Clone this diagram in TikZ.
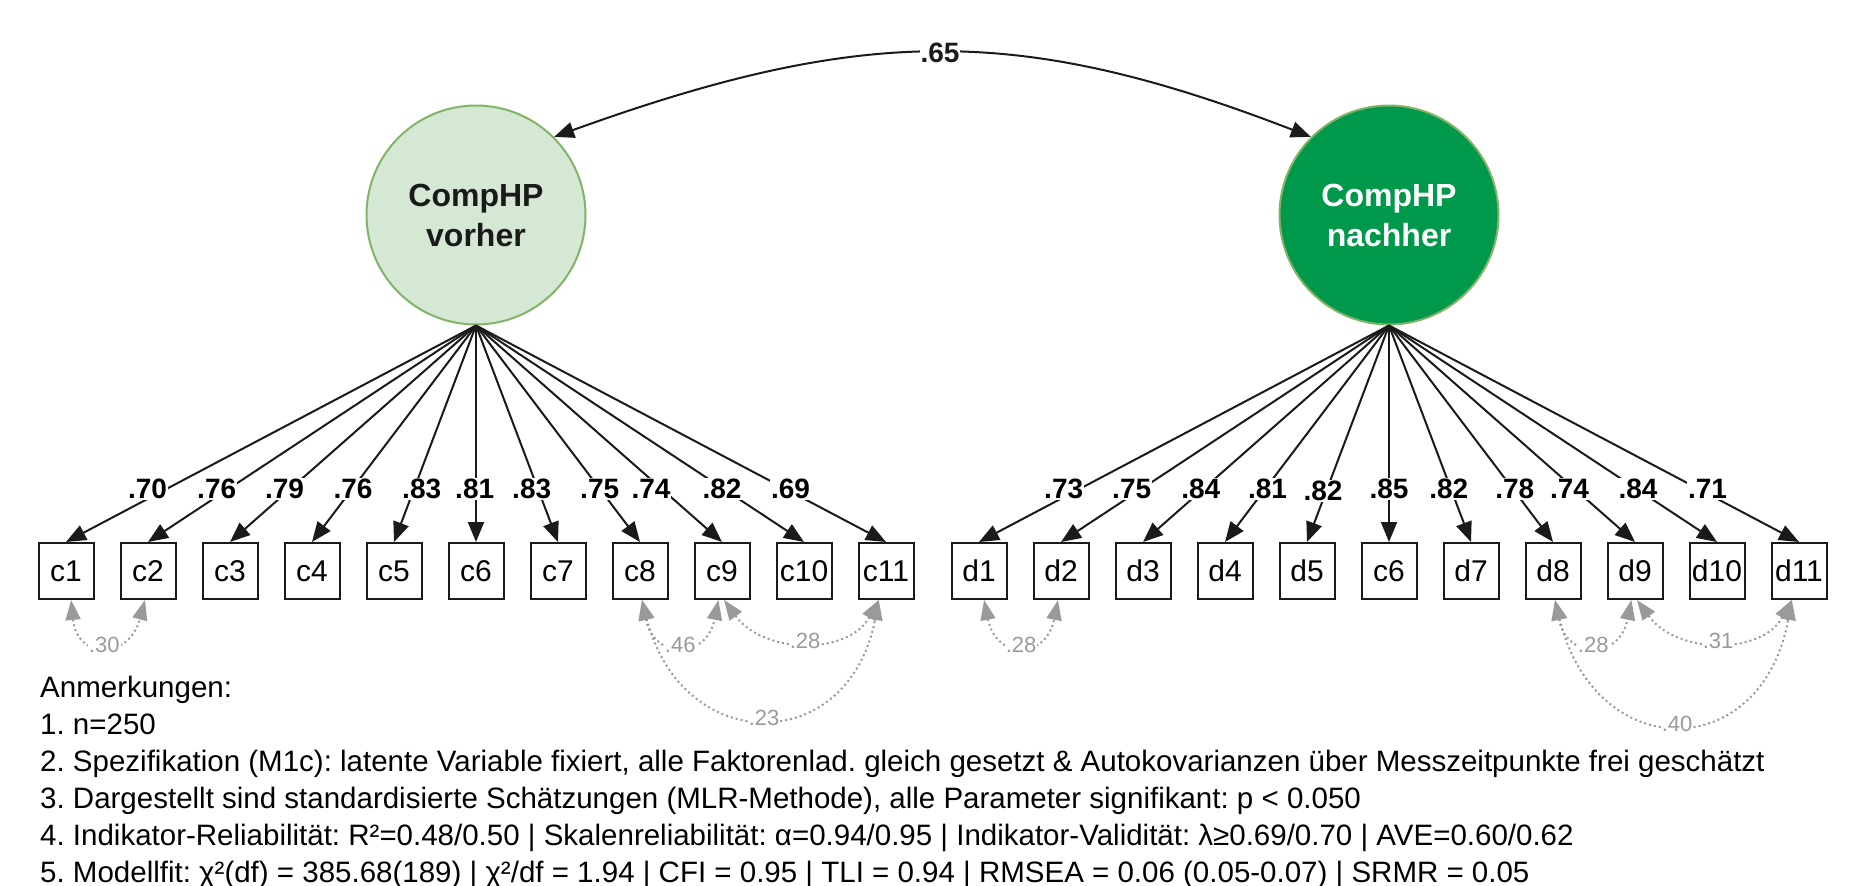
\documentclass[tikz,border=0pt]{standalone}
\usepackage{fontspec}
\setmainfont{Liberation Sans}
\usetikzlibrary{arrows.meta}
\definecolor{lgreen}{HTML}{D5E8D4}
\definecolor{gstroke}{HTML}{82B366}
\definecolor{dgreen}{HTML}{00994C}
\definecolor{covgray}{HTML}{9A9A9A}
\definecolor{ink}{HTML}{1A1A1A}
\frenchspacing
\begin{document}
\begin{tikzpicture}[x=1pt,y=-1pt,
  latent/.style={circle, minimum size=219pt, inner sep=0pt, line width=2pt, draw=gstroke, align=center, font=\fontsize{32}{40}\selectfont\bfseries},
  ind/.style={draw=ink, line width=2pt, minimum width=55pt, minimum height=56pt, inner sep=0pt, font=\fontsize{30}{36}\selectfont},
  load/.style={ink, line width=2pt, -{Triangle[length=20pt,width=16pt]}},
  bicov/.style={ink, line width=2pt, {Triangle[length=20pt,width=16pt]}-{Triangle[length=20pt,width=16pt]}},
  llab/.style={font=\fontsize{28}{34}\selectfont\bfseries, fill=white, inner sep=1pt},
  cov/.style={covgray, line width=2pt, dash pattern=on 2pt off 3pt, {Triangle[length=20pt,width=15pt]}-{Triangle[length=20pt,width=15pt]}},
  clab/.style={font=\fontsize{22}{26}\selectfont, text=covgray, fill=white, inner sep=1pt},
  note/.style={anchor=base west, font=\fontsize{29.5}{36}\selectfont, inner sep=0pt}
]
\useasboundingbox (0,0) rectangle (1856,886);

% latent variables
\node[latent, fill=lgreen, text=ink] (lv) at (476,215) {CompHP\\vorher};
\node[latent, fill=dgreen, text=white] (rv) at (1389,215) {CompHP\\nachher};

% indicators
\foreach \t [count=\i] in {c1,c2,c3,c4,c5,c6,c7,c8,c9,c10,c11}
  \node[ind] (c\i) at ({66+82*(\i-1)},571) {\t};
\foreach \t [count=\i] in {d1,d2,d3,d4,d5,c6,d7,d8,d9,d10,d11}
  \node[ind] (d\i) at ({979+82*(\i-1)},571) {\t};

% loadings
\foreach \i in {1,...,11} {
  \draw[load] (lv.south) -- (c\i.north);
  \draw[load] (rv.south) -- (d\i.north);
}
\foreach \v/\x [count=\i] in {.70/147.5,.76/216.7,.79/284.5,.76/353,.83/421.7,.81/474.7,.83/531.7,.75/599.7,.74/651,.82/722,.69/790.5}
  \node[llab] (lc\i) at (\x,489) {\v};
\foreach \v/\x/\y [count=\i] in {.73/1063.7/489,.75/1131.7/489,.84/1200.8/489,.81/1267.5/489,.82/1323/491,.85/1389/489,.82/1448.8/489,.78/1514.7/489,.74/1569.5/489,.84/1638/489,.71/1707.5/489}
  \node[llab] (ld\i) at (\x,\y) {\v};

% latent covariance
\draw[bicov] (lv.45) .. controls +(310,-112) and +(-290,-112) .. (rv.135)
  node[llab, pos=0.5] (lab65) {.65};

% residual covariances (left)
\draw[cov] (c1.-80) .. controls +(6,60) and +(-16,60) .. (c2.-96) node[clab,pos=0.5] (e1) {.30};
\draw[cov] (c8.-86) .. controls +(12,60) and +(-12,60) .. (c9.-97) node[clab,pos=0.5] (e2) {.46};
\draw[cov] (c9.-86) .. controls +(40,55) and +(-30,55) .. (c11.-104) node[clab,pos=0.5] (e3) {.28};
\draw[cov] (c8.-86) .. controls +(40,157) and +(-30,157) .. (c11.-104) node[clab,pos=0.5] (e4) {.23};

% residual covariances (right)
\draw[cov] (d1.-80) .. controls +(12,60) and +(-12,60) .. (d2.-96) node[clab,pos=0.5] (f1) {.28};
\draw[cov] (d8.-86) .. controls +(12,60) and +(-12,60) .. (d9.-97) node[clab,pos=0.5] (f2) {.28};
\draw[cov] (d9.-86) .. controls +(40,55) and +(-30,55) .. (d11.-104) node[clab,pos=0.5] (f3) {.31};
\draw[cov] (d8.-86) .. controls +(40,165) and +(-30,165) .. (d11.-104) node[clab,pos=0.5] (f4) {.40};

% notes
\node[note] (n0) at (40,697) {Anmerkungen:};
\node[note] (n1) at (40,734) {1. n=250};
\node[note] (n2) at (40,771) {2. Spezifikation (M1c): latente Variable fixiert, alle Faktorenlad. gleich gesetzt \& Autokovarianzen über Messzeitpunkte frei geschätzt};
\node[note] (n3) at (40,808) {3. Dargestellt sind standardisierte Schätzungen (MLR-Methode), alle Parameter signifikant: p < 0.050};
\node[note] (n4) at (40,845) {4. Indikator-Reliabilität: R²=0.48/0.50 | Skalenreliabilität: α=0.94/0.95 | Indikator-Validität: λ≥0.69/0.70 | AVE=0.60/0.62};
\node[note] (n5) at (40,882) {5. Modellfit: χ²(df) = 385.68(189) | χ²/df = 1.94 | CFI = 0.95 | TLI = 0.94 | RMSEA = 0.06 (0.05-0.07) | SRMR = 0.05};
\end{tikzpicture}
\end{document}
